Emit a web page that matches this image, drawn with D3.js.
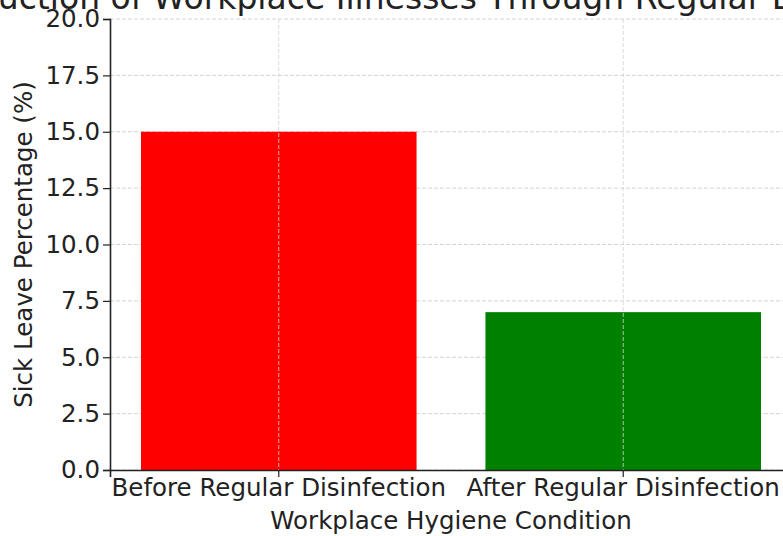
<!DOCTYPE html>
<html>
<head>
<meta charset="utf-8">
<script src="https://cdn.jsdelivr.net/npm/d3@7"></script>
<style>
  body { margin: 0; background: #fff; }
  svg { display: block; font-family: "DejaVu Sans", sans-serif; }
</style>
</head>
<body>
<div id="canvas"></div>
<script>
const conditions = ['Before Regular Disinfection', 'After Regular Disinfection']
const sickLeave = [15, 7]
const barColors = ['red', 'green']
const yTicks = [0, 2.5, 5, 7.5, 10, 12.5, 15, 17.5, 20]

const width = 783
const height = 536
const margin = { top: 19, bottom: 66, left: 110, right: -9 }
const fontSize = '24.5px'

const svg = d3.select('#canvas')
    .append('svg')
        .attr('width', width)
        .attr('height', height)

const x = d3.scaleBand()
    .domain(conditions)
    .range([margin.left, width - margin.right])
    .paddingInner(0.2)
    .paddingOuter(0.09)

const y = d3.scaleLinear()
    .domain([0, 20])
    .range([height - margin.bottom, margin.top])

// horizontal grid
svg.append('g').selectAll('line')
    .data(yTicks)
    .enter()
    .append('line')
    .attr('x1', margin.left)
    .attr('x2', width)
    .attr('y1', d => y(d))
    .attr('y2', d => y(d))
    .attr('stroke', '#d4d4d4')
    .attr('stroke-width', 1)
    .attr('stroke-dasharray', '4,2')

// bars
svg.append('g').selectAll('rect')
    .data(conditions)
    .enter()
    .append('rect')
    .attr('x', d => x(d))
    .attr('y', (d, i) => y(sickLeave[i]))
    .attr('width', x.bandwidth())
    .attr('height', (d, i) => y(0) - y(sickLeave[i]))
    .attr('fill', (d, i) => barColors[i])

// vertical grid on top of the bars
svg.append('g').selectAll('line')
    .data(conditions)
    .enter()
    .append('line')
    .attr('x1', d => x(d) + x.bandwidth() / 2)
    .attr('x2', d => x(d) + x.bandwidth() / 2)
    .attr('y1', margin.top)
    .attr('y2', y(0))
    .attr('stroke', '#d4d4d4')
    .attr('stroke-width', 1)
    .attr('stroke-dasharray', '4,2')
    .attr('opacity', 0.8)

// y axis
const yAxis = svg.append('g')
    .attr('transform', `translate(${margin.left}, 0)`)
    .call(d3.axisLeft(y).tickValues(yTicks).tickFormat(d3.format('.1f')).tickSize(7).tickPadding(3))
yAxis.select('.domain').attr('stroke', '#222').attr('stroke-width', 1.6)
yAxis.selectAll('.tick line').attr('stroke', '#222').attr('stroke-width', 1.2)
yAxis.selectAll('text').attr('font-size', fontSize).attr('fill', '#222')
    .attr('font-family', '"DejaVu Sans", sans-serif')

// x axis
const xAxis = svg.append('g')
    .attr('transform', `translate(0, ${y(0)})`)
    .call(d3.axisBottom(x).tickSize(7).tickPadding(2))
xAxis.select('.domain').attr('stroke', '#222').attr('stroke-width', 1.6)
xAxis.selectAll('.tick line').attr('stroke', '#222').attr('stroke-width', 1.2)
xAxis.selectAll('text').attr('font-size', fontSize).attr('fill', '#222')
    .attr('font-family', '"DejaVu Sans", sans-serif')

// labels
svg.append('text')
    .attr('x', (margin.left + width - margin.right) / 2)
    .attr('y', 529)
    .attr('text-anchor', 'middle')
    .attr('font-size', fontSize)
    .attr('fill', '#222')
    .text('Workplace Hygiene Condition')

svg.append('text')
    .attr('transform', `translate(32, ${(y(0) + y(20)) / 2}) rotate(-90)`)
    .attr('text-anchor', 'middle')
    .attr('font-size', fontSize)
    .attr('fill', '#222')
    .text('Sick Leave Percentage (%)')

svg.append('text')
    .attr('x', (margin.left + width - margin.right) / 2)
    .attr('y', 9)
    .attr('text-anchor', 'middle')
    .attr('font-size', '33px')
    .attr('fill', '#222')
    .text('Reduction of Workplace Illnesses Through Regular Disinfection')
</script>
</body>
</html>
